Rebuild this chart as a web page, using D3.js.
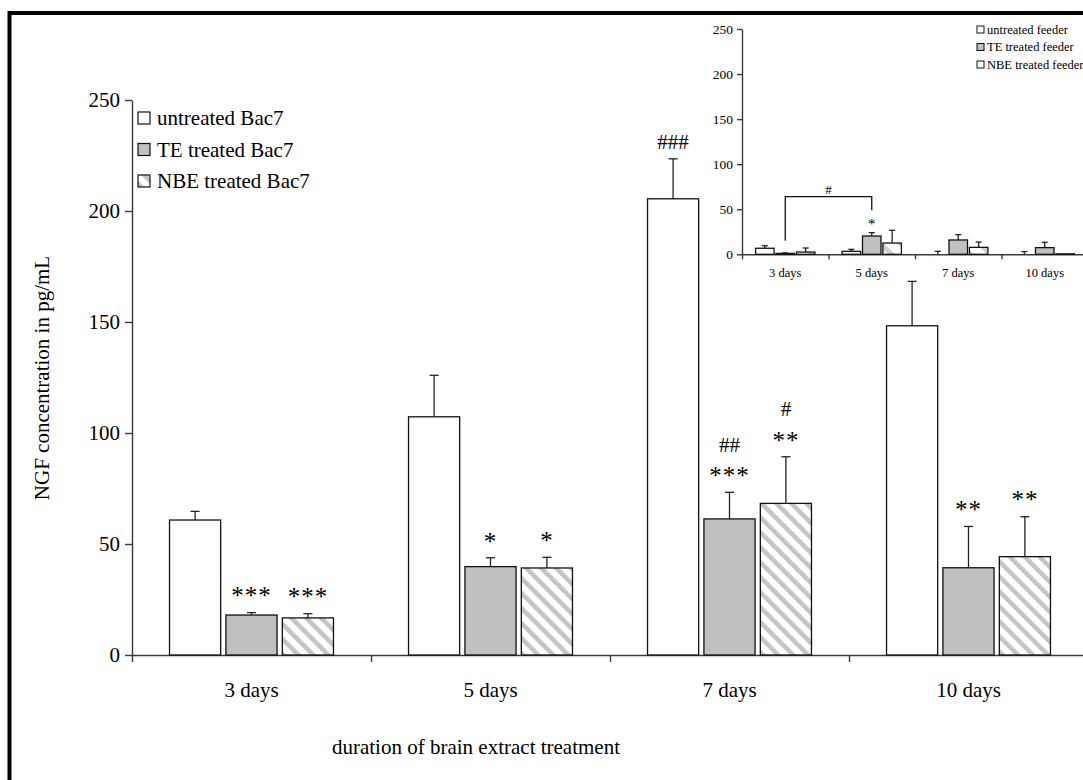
<!DOCTYPE html>
<html lang="en">
<head>
  <meta charset="UTF-8">
  <title>NGF concentration</title>
  <script src="https://d3js.org/d3.v7.min.js"></script>
  <style>
    body { margin: 0; background: #fff; overflow: hidden; }
    svg { display: block; }
    text { font-family: "Liberation Serif", "Times New Roman", serif; fill: #000; }
    .axis path, .axis line { stroke: #3a3a3a; stroke-width: 1.4; }
    .axis text { font-family: "Liberation Serif", serif; fill: #000; }
  </style>
</head>
<body>
<svg width="1083" height="780"></svg>
<script>
  // main chart data (NGF pg/mL, Bac7 cells)
  const days = ["3 days", "5 days", "7 days", "10 days"];
  const seriesNames = ["untreated Bac7", "TE treated Bac7", "NBE treated Bac7"];
  const untreated = [60.8, 107.3, 205.5, 148.3];
  const untreatedSd = [3.9, 18.7, 18, 20];
  const teTreated = [18, 39.8, 61.3, 39.3];
  const teTreatedSd = [1.1, 4, 12, 18.6];
  const nbeTreated = [16.7, 39.2, 68.3, 44.3];
  const nbeTreatedSd = [1.9, 4.8, 21, 18];
  const stars = [["", "", "", ""], ["***", "*", "***", "**"], ["***", "*", "**", "**"]];
  const hashes = [["", "", "###", ""], ["", "", "##", ""], ["", "", "#", ""]];
  const yTicks = [0, 50, 100, 150, 200, 250];

  // inset data (feeder cells)
  const insetNames = ["untreated feeder", "TE treated feeder", "NBE treated feeder"];
  const feederUntreated = [6.7, 3.3, 0, 0];
  const feederUntreatedSd = [2.8, 2.2, 3.3, 3];
  const feederTe = [1, 20.3, 15.9, 7.4];
  const feederTeSd = [0.5, 3.7, 5.9, 5.9];
  const feederNbe = [2.5, 12.5, 7.7, 0.5];
  const feederNbeSd = [4.5, 14.1, 5.9, 0];
  const feederStars = [["", "", "", ""], ["", "*", "", ""], ["", "", "", ""]];
  const bracketLevels = [15, 64, 49]; // left foot, top, right foot

  const svg = d3.select("svg");
  const defs = svg.append("defs");

  function hatch(id, size, stripe, color) {
    const p = defs.append("pattern")
      .attr("id", id)
      .attr("patternUnits", "userSpaceOnUse")
      .attr("width", size).attr("height", size)
      .attr("patternTransform", "rotate(-45)");
    p.append("rect").attr("width", size).attr("height", size).attr("fill", "#fff");
    p.append("rect").attr("width", stripe).attr("height", size).attr("fill", color);
  }
  hatch("hatch", 10.6, 4.5, "#c4c4c4");
  hatch("hatchSmall", 14, 5, "#d0d0d0");

  const fills = ["#ffffff", "#c0c0c0", "url(#hatch)"];
  const insetFills = ["#ffffff", "#c0c0c0", "url(#hatchSmall)"];

  function drawChart(g, opt) {
    const x = d3.scaleBand().domain(days).range(opt.xRange);
    const y = d3.scaleLinear().domain([0, 250]).range(opt.yRange);
    const bw = x.bandwidth();
    const barW = bw * 0.214, gap = bw * 0.022;
    const groupW = 3 * barW + 2 * gap;
    const off = (bw - groupW) / 2;
    const xs = (i, s) => x(days[i]) + off + s * (barW + gap);

    // y axis
    g.append("g").attr("class", "axis")
      .attr("transform", `translate(${opt.xRange[0]},0)`)
      .call(d3.axisLeft(y).tickValues(yTicks).tickSize(opt.tick).tickSizeOuter(0).tickPadding(opt.pad))
      .call(a => a.selectAll("text").style("font-size", opt.tickFont + "px"));

    // x axis: line + boundary ticks, then labels centred in bands
    const xb = d3.scaleLinear().domain([0, days.length]).range(opt.xRange);
    g.append("g").attr("class", "axis")
      .attr("transform", `translate(0,${opt.yRange[0]})`)
      .call(d3.axisBottom(xb).tickValues(d3.range(days.length + 1)).tickFormat("").tickSize(opt.tick).tickSizeOuter(0));
    g.append("g").attr("class", "axis")
      .attr("transform", `translate(0,${opt.yRange[0]})`)
      .call(d3.axisBottom(x).tickSize(0).tickPadding(opt.xPad))
      .call(a => a.select(".domain").remove())
      .call(a => a.selectAll("text").style("font-size", opt.font + "px"));

    opt.series.forEach((vals, s) => {
      const sd = opt.sds[s];
      vals.forEach((v, i) => {
        const cx = xs(i, s) + barW / 2;
        const top = y(v + sd[i]);
        if (sd[i] > 0) {
          g.append("line").attr("x1", cx).attr("x2", cx)
            .attr("y1", y(v)).attr("y2", top)
            .attr("stroke", "#222").attr("stroke-width", 1.3);
          g.append("line").attr("x1", cx - opt.cap).attr("x2", cx + opt.cap)
            .attr("y1", top).attr("y2", top)
            .attr("stroke", "#222").attr("stroke-width", 1.3);
        }
        g.append("rect")
          .attr("x", xs(i, s)).attr("width", barW)
          .attr("y", y(v)).attr("height", y(0) - y(v))
          .attr("fill", opt.fills[s])
          .attr("stroke", "#111").attr("stroke-width", 1.3);

        // significance marks: star centre sits starGap above the error cap
        const st = opt.stars[s][i];
        let hashCentre = top - opt.starGap * 0.85;
        if (st) {
          const c = top - opt.starGap;
          g.append("text").attr("x", cx).attr("y", c + 0.47 * opt.starFont)
            .attr("text-anchor", "middle").style("font-size", opt.starFont + "px")
            .style("letter-spacing", opt.starSpace + "px")
            .text(st);
          hashCentre = c - opt.hashGap;
        }
        const h = opt.hashes ? opt.hashes[s][i] : "";
        if (h) {
          g.append("text").attr("x", cx).attr("y", hashCentre + 0.35 * opt.font)
            .attr("text-anchor", "middle").style("font-size", opt.font + "px")
            .text(h);
        }
      });
    });
    return { x, y, xs, barW };
  }

  // outer frame
  svg.append("rect").attr("x", 9.5).attr("y", 13).attr("width", 1200).attr("height", 900)
    .attr("fill", "none").attr("stroke", "#000").attr("stroke-width", 4);

  const mainG = svg.append("g");
  drawChart(mainG, {
    xRange: [132, 1088], yRange: [655, 100], tick: 7, pad: 5, xPad: 27,
    font: 21, tickFont: 21, cap: 4.5, starGap: 20, hashGap: 28, starFont: 25, starSpace: 1,
    series: [untreated, teTreated, nbeTreated],
    sds: [untreatedSd, teTreatedSd, nbeTreatedSd],
    fills, stars, hashes
  });

  mainG.append("text").attr("transform", "translate(49,378) rotate(-90)")
    .attr("text-anchor", "middle").style("font-size", "21px")
    .text("NGF concentration in pg/mL");
  mainG.append("text").attr("x", 476).attr("y", 754)
    .attr("text-anchor", "middle").style("font-size", "21px")
    .text("duration of brain extract treatment");

  // main legend
  const leg = mainG.append("g").attr("transform", "translate(138,112)");
  seriesNames.forEach((n, i) => {
    leg.append("rect").attr("x", 0).attr("y", i * 31.5).attr("width", 12).attr("height", 12)
      .attr("fill", fills[i]).attr("stroke", "#111").attr("stroke-width", 1.2);
    leg.append("text").attr("x", 19).attr("y", i * 31.5 + 13).style("font-size", "21px").text(n);
  });

  // inset chart
  const insetG = svg.append("g");
  const ins = drawChart(insetG, {
    xRange: [742, 1088], yRange: [254.3, 29], tick: 5, pad: 4, xPad: 14,
    font: 12.5, tickFont: 13.5, cap: 3, starGap: 11, hashGap: 14, starFont: 15, starSpace: 0,
    series: [feederUntreated, feederTe, feederNbe],
    sds: [feederUntreatedSd, feederTeSd, feederNbeSd],
    fills: insetFills, stars: feederStars, hashes: null
  });

  // significance bracket between 3 and 5 days (TE feeder)
  const bx1 = ins.xs(0, 1) + ins.barW / 2, bx2 = ins.xs(1, 1) + ins.barW / 2;
  insetG.append("path")
    .attr("d", d3.line()([[bx1, ins.y(bracketLevels[0])], [bx1, ins.y(bracketLevels[1])],
      [bx2, ins.y(bracketLevels[1])], [bx2, ins.y(bracketLevels[2])]]))
    .attr("fill", "none").attr("stroke", "#111").attr("stroke-width", 1.3);
  insetG.append("text").attr("x", (bx1 + bx2) / 2).attr("y", ins.y(bracketLevels[1]) - 3)
    .attr("text-anchor", "middle").style("font-size", "13px").text("#");

  const ileg = insetG.append("g").attr("transform", "translate(977,26)");
  insetNames.forEach((n, i) => {
    ileg.append("rect").attr("x", 0).attr("y", i * 17.5).attr("width", 7).attr("height", 7)
      .attr("fill", i === 1 ? "#c0c0c0" : "#fff").attr("stroke", "#111").attr("stroke-width", 1);
    ileg.append("text").attr("x", 10).attr("y", i * 17.5 + 7.5).style("font-size", "12.5px").text(n);
  });
</script>
</body>
</html>
